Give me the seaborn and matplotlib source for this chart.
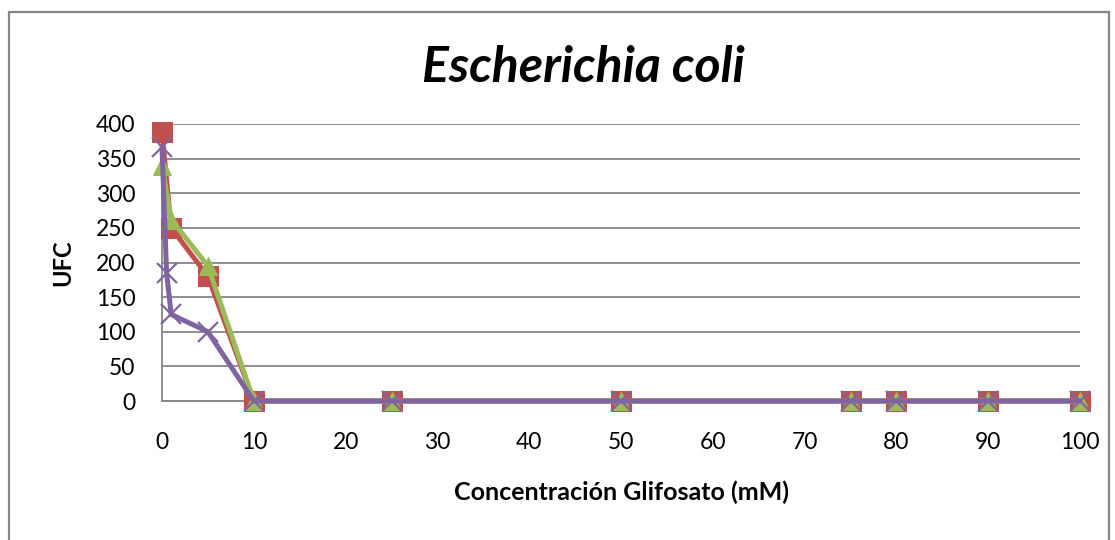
import matplotlib
matplotlib.use("Agg")
import matplotlib.pyplot as plt
import seaborn as sns
from matplotlib.patches import Rectangle

sns.set_theme(style="white")
plt.rcParams['font.family'] = ['Lato', 'DejaVu Sans']
plt.rcParams['text.color'] = 'black'
plt.rcParams['axes.labelcolor'] = 'black'

# Glyphosate concentration (mM) and colony counts (UFC) per replicate
x_red = [0, 1, 5, 10, 25, 50, 75, 80, 90, 100]
ufc_red = [388, 250, 180, 0, 0, 0, 0, 0, 0, 0]

x_green = [0, 1, 5, 10, 25, 50, 75, 80, 90, 100]
ufc_green = [340, 262, 195, 0, 0, 0, 0, 0, 0, 0]

x_purple = [0, 0.5, 1, 5, 10, 25, 50, 75, 80, 90, 100]
ufc_purple = [367, 185, 125, 100, 0, 0, 0, 0, 0, 0, 0]

x_ticks = [0, 10, 20, 30, 40, 50, 60, 70, 80, 90, 100]
y_ticks = [0, 50, 100, 150, 200, 250, 300, 350, 400]

RED = "#C0504D"
GREEN = "#9BBB59"
PURPLE = "#8064A2"
GRAY = "#868686"

fig = plt.figure(figsize=(11.15, 5.4), dpi=100)
ax = fig.add_axes([162 / 1115, 1 - 401 / 540, (1080 - 162) / 1115, (401 - 124) / 540])

sns.lineplot(x=x_red, y=ufc_red, ax=ax, color=RED, linewidth=3.6, marker="s",
             markersize=14, markeredgecolor=RED, sort=False, zorder=3, clip_on=False)
sns.lineplot(x=x_green, y=ufc_green, ax=ax, color=GREEN, linewidth=3.6, marker="^",
             markersize=13, markeredgecolor=GREEN, sort=False, zorder=4, clip_on=False)
sns.lineplot(x=x_purple, y=ufc_purple, ax=ax, color=PURPLE, linewidth=3.6, marker="x",
             markersize=14, markeredgewidth=1.6, markeredgecolor=PURPLE, sort=False,
             zorder=5, clip_on=False)

ax.set_xlim(0, 100)
ax.set_ylim(0, 400)
ax.set_xticks(x_ticks)
ax.set_yticks(y_ticks)
ax.tick_params(axis="both", labelsize=16.5, colors=GRAY, labelcolor="black",
               direction="out", length=7, width=1.3)
ax.tick_params(axis="y", pad=12)
ax.tick_params(axis="x", pad=15)

ax.grid(axis="y", color=GRAY, linewidth=1.3)
ax.grid(axis="x", visible=False)
for side in ("top", "right"):
    ax.spines[side].set_visible(False)
for side in ("left", "bottom"):
    ax.spines[side].set_color(GRAY)
    ax.spines[side].set_linewidth(1.3)
ax.set_axisbelow(True)

ax.set_xlabel("Concentración Glifosato (mM)", fontsize=18, fontweight="bold", labelpad=20)
ax.set_ylabel("UFC", fontsize=17, fontweight="bold", labelpad=16)
fig.text(0.523, 1 - 67 / 540, "Escherichia coli", ha="center", va="center",
         fontsize=36, fontweight="bold", fontstyle="italic")

# Chart area border
fig.patches.append(Rectangle((9 / 1115, -0.02), (1109 - 9) / 1115, 1 - 12 / 540 + 0.02,
                             transform=fig.transFigure, fill=False,
                             edgecolor=GRAY, linewidth=1.6))

fig.savefig("out.png", dpi=100)
